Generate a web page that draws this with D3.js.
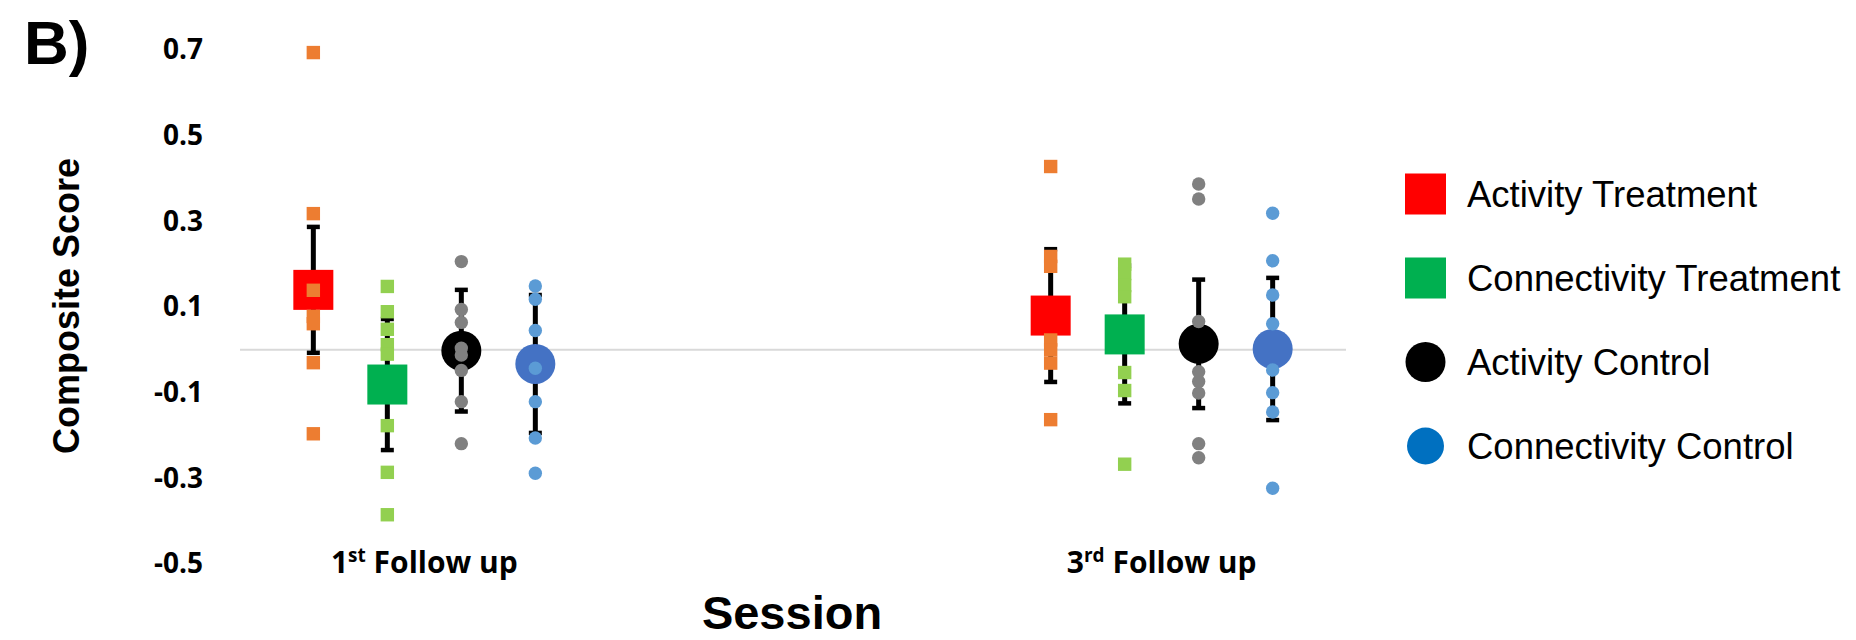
<!DOCTYPE html>
<html>
<head>
<meta charset="utf-8">
<script src="https://cdn.jsdelivr.net/npm/d3@7/dist/d3.min.js"></script>
<style>
  html, body { margin: 0; padding: 0; background: #ffffff; }
  svg { display: block; }
</style>
</head>
<body>
<svg id="chart" width="1856" height="640"></svg>
<script>
// Sessions (x categories) and groups
const sessions = ["1st Follow up", "3rd Follow up"];
const sessionOrdinal = ["st", "rd"];
const sessionNumber = ["1", "3"];
const groups = ["Activity Treatment", "Connectivity Treatment", "Activity Control", "Connectivity Control"];

// Group means per session
const activityTreatmentMean = [0.140, 0.080];
const connectivityTreatmentMean = [-0.081, 0.036];
const activityControlMean = [-0.002, 0.014];
const connectivityControlMean = [-0.033, 0.002];

// Error bar half-widths per session
const activityTreatmentErr = [0.147, 0.155];
const connectivityTreatmentErr = [0.153, 0.161];
const activityControlErr = [0.142, 0.150];
const connectivityControlErr = [0.161, 0.166];

// Individual subject scores, 1st follow up
const activityTreatment1 = [0.694, 0.318, 0.139, 0.078, 0.061, -0.030, -0.196];
const connectivityTreatment1 = [0.148, 0.089, 0.048, 0.012, -0.010, -0.177, -0.286, -0.385];
const activityControl1 = [0.206, 0.094, 0.064, 0.004, -0.012, -0.048, -0.121, -0.219];
const connectivityControl1 = [0.149, 0.118, 0.045, -0.043, -0.121, -0.206, -0.288];

// Individual subject scores, 3rd follow up
const activityTreatment3 = [0.428, 0.218, 0.195, 0.023, 0.000, -0.031, -0.163];
const connectivityTreatment3 = [0.200, 0.178, 0.150, 0.124, -0.053, -0.095, -0.267];
const activityControl3 = [0.387, 0.352, 0.066, -0.051, -0.074, -0.101, -0.219, -0.252];
const connectivityControl3 = [0.319, 0.208, 0.128, 0.061, -0.047, -0.100, -0.145, -0.323];

const yTicks = [-0.5, -0.3, -0.1, 0.1, 0.3, 0.5, 0.7];

// Styling per group
const meanColor = ["#ff0000", "#00b050", "#000000", "#4472c4"];
const pointColor = ["#ed7d31", "#92d050", "#808080", "#5b9bd5"];
const legendColor = ["#ff0000", "#00b050", "#000000", "#0070c0"];
const shape = ["square", "square", "circle", "circle"];

const means = [activityTreatmentMean, connectivityTreatmentMean, activityControlMean, connectivityControlMean];
const errs = [activityTreatmentErr, connectivityTreatmentErr, activityControlErr, connectivityControlErr];
const points = [
  [activityTreatment1, activityTreatment3],
  [connectivityTreatment1, connectivityTreatment3],
  [activityControl1, activityControl3],
  [connectivityControl1, connectivityControl3]
];

const svg = d3.select("#chart");
const left = 240, right = 1346;

const y = d3.scaleLinear().domain([-0.5, 0.7]).range([564, 50]);
const x = d3.scalePoint().domain(sessions).range([left, right]).padding(0.25);
const xi = d3.scalePoint().domain(groups).range([-111, 111]);

// Zero reference line
svg.append("line")
  .attr("x1", left).attr("x2", right)
  .attr("y1", y(0)).attr("y2", y(0))
  .attr("stroke", "#d9d9d9").attr("stroke-width", 2);

// Y axis labels
const yAxis = svg.append("g")
  .attr("transform", `translate(${left},0)`)
  .call(d3.axisLeft(y).tickValues(yTicks).tickSize(0).tickPadding(37).tickFormat(d => d.toFixed(1)));
yAxis.select(".domain").remove();
yAxis.selectAll("text")
  .attr("font-family", "'Open Sans', sans-serif")
  .attr("font-weight", "bold")
  .attr("font-size", 28)
  .attr("fill", "#000");

// Flattened records for drawing
const records = [];
groups.forEach((g, gi) => {
  sessions.forEach((s, si) => {
    records.push({ gi, si, cx: x(s) + xi(g), mean: means[gi][si], err: errs[gi][si], pts: points[gi][si] });
  });
});

// Error bars
const eb = svg.append("g");
records.forEach(r => {
  const top = y(r.mean + r.err), bot = y(r.mean - r.err);
  eb.append("line").attr("x1", r.cx).attr("x2", r.cx).attr("y1", top).attr("y2", bot)
    .attr("stroke", "#000").attr("stroke-width", 5);
  [top, bot].forEach(v => {
    eb.append("line").attr("x1", r.cx - 6.5).attr("x2", r.cx + 6.5).attr("y1", v).attr("y2", v)
      .attr("stroke", "#000").attr("stroke-width", 4.5);
  });
});

// Mean markers
const mg = svg.append("g");
records.forEach(r => {
  if (shape[r.gi] === "square") {
    mg.append("rect").attr("x", r.cx - 20).attr("y", y(r.mean) - 20)
      .attr("width", 40).attr("height", 40).attr("fill", meanColor[r.gi]);
  } else {
    mg.append("circle").attr("cx", r.cx).attr("cy", y(r.mean)).attr("r", 20)
      .attr("fill", meanColor[r.gi]);
  }
});

// Individual scores
const pg = svg.append("g");
records.forEach(r => {
  r.pts.forEach(v => {
    if (shape[r.gi] === "square") {
      pg.append("rect").attr("x", r.cx - 6.7).attr("y", y(v) - 6.7)
        .attr("width", 13.4).attr("height", 13.4).attr("fill", pointColor[r.gi]);
    } else {
      pg.append("circle").attr("cx", r.cx).attr("cy", y(v)).attr("r", 6.7)
        .attr("fill", pointColor[r.gi]);
    }
  });
});

// Session labels with ordinal superscripts
sessions.forEach((s, si) => {
  const t = svg.append("text")
    .attr("x", x(s)).attr("y", 573)
    .attr("text-anchor", "middle")
    .attr("font-family", "'Open Sans', sans-serif")
    .attr("font-weight", "bold")
    .attr("font-size", 30)
    .attr("fill", "#000");
  t.append("tspan").text(sessionNumber[si]);
  t.append("tspan").attr("font-size", 19).attr("dy", -11).text(sessionOrdinal[si]);
  t.append("tspan").attr("dy", 11).text(" Follow up");
});

// Axis titles
svg.append("text")
  .attr("x", 792).attr("y", 629)
  .attr("text-anchor", "middle")
  .attr("font-family", "'Liberation Sans', Arial, sans-serif")
  .attr("font-weight", "bold")
  .attr("font-size", 47)
  .text("Session");

svg.append("text")
  .attr("transform", "translate(79,306) rotate(-90)")
  .attr("text-anchor", "middle")
  .attr("font-family", "'Liberation Sans', Arial, sans-serif")
  .attr("font-weight", "bold")
  .attr("font-size", 36)
  .text("Composite Score");

// Panel letter
svg.append("text")
  .attr("x", 24).attr("y", 64)
  .attr("font-family", "'Liberation Sans', Arial, sans-serif")
  .attr("font-weight", "bold")
  .attr("font-size", 62)
  .text("B)");

// Legend
const lg = svg.append("g");
groups.forEach((g, gi) => {
  const cy = 194 + gi * 84;
  if (shape[gi] === "square") {
    lg.append("rect").attr("x", 1405).attr("y", cy - 20.5).attr("width", 41).attr("height", 41)
      .attr("fill", legendColor[gi]);
  } else {
    lg.append("circle").attr("cx", 1425.5).attr("cy", cy).attr("r", gi === 3 ? 18.5 : 20)
      .attr("fill", legendColor[gi]);
  }
  lg.append("text").attr("x", 1467).attr("y", cy + 13)
    .attr("font-family", "'Liberation Sans', Arial, sans-serif")
    .attr("font-size", 36.5)
    .attr("fill", "#000")
    .text(g);
});
</script>
</body>
</html>
